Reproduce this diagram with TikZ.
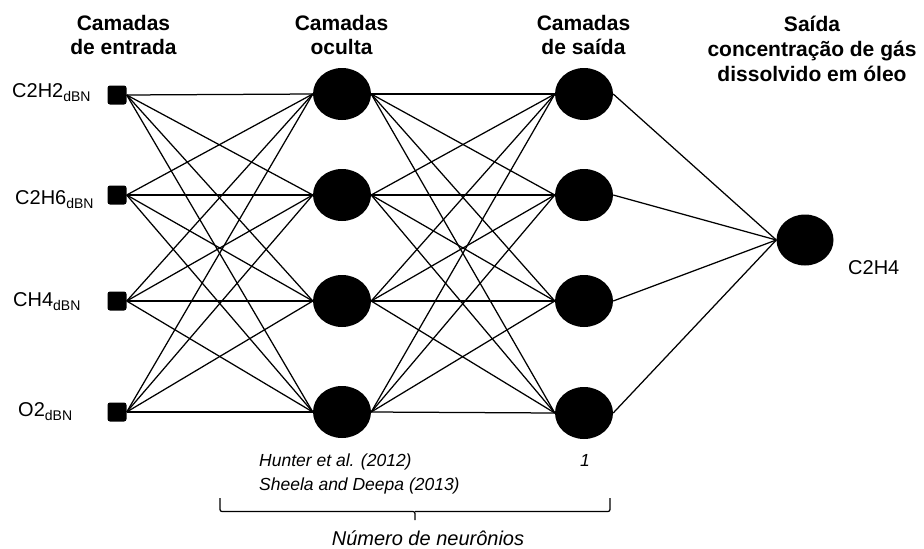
\documentclass[tikz,border=0pt]{standalone}
\usepackage{fontspec}
\setmainfont{Liberation Sans}
\usetikzlibrary{shapes.geometric}
\begin{document}
\begin{tikzpicture}[x=1pt,y=-1pt,
 neuron/.style={ellipse, fill=black, draw=none, inner sep=0pt, minimum width=58pt, minimum height=52pt},
 inbox/.style={rectangle, fill=black, rounded corners=2.5pt, inner sep=0pt, minimum size=19pt},
 link/.style={line width=1.25pt, black},
 header/.style={font=\fontsize{21}{24}\selectfont\bfseries, align=center, anchor=base, inner sep=0pt},
 lbl/.style={font=\fontsize{20}{24}\selectfont, anchor=base west, inner sep=0pt},
 cite/.style={font=\fontsize{17.5}{23}\selectfont\itshape, anchor=base west, inner sep=0pt},
 brace/.style={line width=1.25pt, black}]
\useasboundingbox (0,0) rectangle (924,549);
\newcommand{\subdbn}{\raisebox{-4.4pt}{\fontsize{14}{14}\selectfont dBN}}

% headers (anchor = baseline of last line)
\node[header] (h1) at (123.5,54.5) {Camadas\\de entrada};
\node[header] (h2) at (341.5,54.5) {Camadas\\oculta};
\node[header] (h3) at (583.5,54.5) {Camadas\\de saída};
\node[header, font=\fontsize{21}{25}\selectfont\bfseries] (h4) at (812,81) {Saída\\concentração de gás\\dissolvido em óleo};

% input nodes
\foreach \i/\y in {1/95,2/195,3/301,4/412}
  \node[inbox] (in\i) at (117,\y) {};
% hidden nodes
\foreach \i/\y in {1/94,2/195,3/301,4/412}
  \node[neuron] (h\i) at (342,\y) {};
% output layer nodes
\foreach \i/\y in {1/94,2/195,3/301,4/413}
  \node[neuron] (o\i) at (584,\y) {};
% final node
\node[neuron, minimum width=57pt, minimum height=51pt] (f) at (805,240) {};

% connections
\foreach \i in {1,...,4}{
  \foreach \j in {1,...,4}{
    \draw[link] (in\i.east) -- (h\j.west);
    \draw[link] (h\i.east) -- (o\j.west);
  }
  \draw[link] (o\i.east) -- (f.west);
}

% labels
\node[lbl] (l1) at (12,97.3) {C2H2\subdbn};
\node[lbl] (l2) at (15,204) {C2H6\subdbn};
\node[lbl] (l3) at (13,306.5) {CH4\subdbn};
\node[lbl] (l4) at (18,416.5) {O2\subdbn};
\node[lbl] (lf) at (848,274) {C2H4};

% citations
\node[cite] (c1) at (259,466.5) {Hunter et al. (2012)};
\node[cite] (c2) at (259,490) {Sheela and Deepa (2013)};
\node[cite] (c3) at (580,466.5) {1};

% brace
\coordinate (bl) at (220,498);
\coordinate (br) at (610,498);
\coordinate (bm) at (415,520);
\draw[brace, rounded corners=2pt] (bl) -- (220,511.5) -- (415,511.5) -- (bm);
\draw[brace, rounded corners=2pt] (br) -- (610,511.5) -- (415,511.5);
\node[font=\fontsize{20}{24}\selectfont\itshape, anchor=base, inner sep=0pt] (nn) at (428,545) {Número de neurônios};
\end{tikzpicture}
\end{document}
